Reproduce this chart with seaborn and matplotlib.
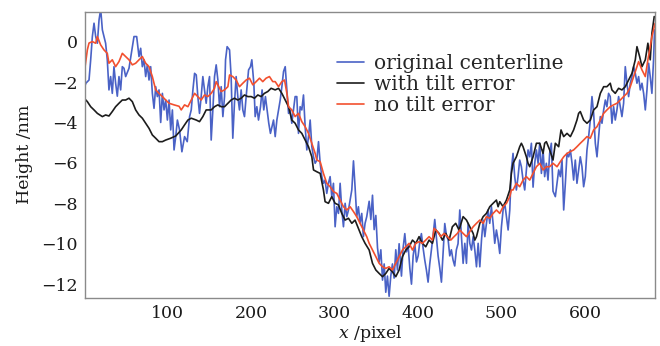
import matplotlib
matplotlib.use("Agg")
import matplotlib.pyplot as plt
import seaborn as sns
import pandas as pd
from matplotlib.lines import Line2D

# ---------------- data ----------------
series_names = ["original centerline", "with tilt error", "no tilt error"]

blue_pts = [
    (0, -2.31), (2, -2.06), (5.8, -1.9), (7.8, -0.9), (9.8, 0.25), (11.8, 0.91), (13.8, 0.25),
    (15.8, -0.08), (17.8, 1.07), (19.8, 1.6), (21.8, 0.58), (25.7, -0.08), (27.7, -0.9),
    (29.7, -2.39), (31.7, -1.73), (33.7, -2.56), (35.7, -1.24), (37.7, -2.06), (39.7, -2.7),
    (41.7, -1.73), (43.7, -2.39), (45.7, -1.24), (47.7, -1.32), (49.7, -1.73), (53.7, -1.32),
    (57.7, -0.25), (59.7, 0.25), (62.9, 0.25), (65.7, -0.74), (67.7, -0.33), (69.7, -1.24),
    (71.7, -0.9), (73.7, -1.73), (75.7, -1.15), (77.7, -1.9), (79.7, -1.24), (81.7, -2.56),
    (83.7, -3.3), (85.7, -2.23), (87.7, -2.72), (89.7, -2.39), (91.7, -4.0), (93.7, -2.56),
    (95.7, -3.38), (97.7, -2.89), (99.7, -3.88), (101.7, -2.89), (103.7, -4.37), (105.7, -3.38),
    (107.7, -5.36), (109.7, -4.7), (111.7, -3.88), (114.3, -4.37), (117.1, -5.45), (120.3, -4.7),
    (123.5, -4.95), (126.3, -3.71), (128.3, -3.38), (130.3, -2.39), (132.3, -1.57), (134.3, -1.65),
    (136.2, -2.72), (138.2, -3.55), (140.2, -2.72), (142.2, -1.73), (144.2, -2.39), (146.2, -3.05),
    (148.2, -2.23), (150.2, -1.73), (152.2, -4.87), (154.2, -3.38), (156.2, -1.73), (158.2, -1.15),
    (160.2, -1.9), (162.2, -3.22), (164.2, -2.23), (166.2, -3.71), (168.2, -2.72), (169.4, -0.9),
    (171.3, -0.25), (174.2, -0.41), (176.1, -1.73), (178.1, -4.78), (180.1, -3.05), (182.1, -1.73),
    (184.1, -2.72), (186.1, -3.38), (188.1, -2.39), (190.1, -3.38), (192.1, -3.71), (194.1, -2.72),
    (197.0, -1.4), (199.3, -1.24), (200.9, -0.9), (203.3, -2.06), (204.9, -3.71), (206.9, -3.22),
    (208.9, -3.88), (211.3, -3.22), (213.2, -2.39), (215.2, -3.38), (217.2, -2.72), (219.2, -3.38),
    (221.2, -4.04), (223.2, -4.54), (226.9, -3.88), (228.9, -4.7), (230.9, -3.88), (232.9, -3.38),
    (234.9, -2.89), (236.9, -2.23), (238.9, -1.48), (240.9, -1.24), (242.9, -2.39), (244.9, -3.55),
    (246.9, -3.38), (248.8, -4.04), (250.8, -3.38), (252.8, -2.72), (254.8, -2.72), (256.8, -4.54),
    (258.8, -3.22), (260.8, -3.38), (262.8, -2.64), (264.8, -4.21), (266.8, -5.36), (268.8, -4.7),
    (270.8, -3.88), (272.8, -5.2), (274.8, -5.7), (276.8, -6.02), (278.8, -5.86), (280.8, -4.95),
    (282.8, -6.02), (284.8, -6.68), (286.7, -7.01), (288.7, -6.85), (290.7, -7.51), (292.7, -7.01),
    (294.7, -6.68), (296.7, -7.67), (298.7, -7.01), (300.7, -9.16), (302.7, -8.17), (304.7, -8.5),
    (306.7, -7.01), (308.7, -8.33), (310.7, -9.16), (312.7, -8.0), (314.7, -8.66), (316.7, -8.33),
    (320.7, -7.34), (322.7, -5.9), (324.6, -7.18), (326.6, -8.66), (328.6, -8.17), (330.6, -8.99),
    (332.6, -8.5), (334.6, -9.65), (336.6, -8.99), (338.6, -8.66), (341.5, -7.9), (343.5, -8.8),
    (345.5, -7.6), (347.5, -9.3), (349.5, -8.6), (351.5, -10.2), (353.5, -10.9), (355.5, -10.3),
    (357.5, -11.8), (359.5, -11.0), (361.4, -12.4), (363.4, -11.6), (365.4, -12.6), (367.4, -11.6),
    (369.4, -11.0), (371.4, -11.7), (373.4, -10.3), (375.4, -11.3), (377.4, -10.0), (380.2, -11.6),
    (382.2, -10.2), (384.2, -9.5), (386.2, -10.4), (388.2, -10.1), (390.2, -11.2), (392.2, -12.0),
    (394.2, -10.6), (396.2, -10.0), (398.2, -10.9), (400.2, -10.6), (402.2, -9.9), (404.1, -9.5),
    (406.1, -10.2), (408.1, -10.8), (410.1, -11.3), (412.1, -11.9), (414.1, -11.0), (416.1, -10.3),
    (418.1, -9.6), (420.1, -8.8), (422.1, -9.7), (424.1, -10.6), (426.1, -11.2), (428.1, -11.9),
    (430.1, -10.4), (432.1, -9.0), (434.1, -9.6), (436.1, -9.8), (438.1, -10.6), (440.0, -10.3),
    (442.0, -10.8), (444.0, -11.1), (446.0, -10.3), (448.0, -10.0), (450.1, -8.33), (452.1, -9.65),
    (454.1, -10.97), (456.1, -9.98), (458.1, -10.97), (460.1, -8.99), (462.1, -9.98), (464.1, -10.31),
    (466.1, -9.65), (468.1, -10.31), (470.1, -11.14), (472.1, -9.98), (474.1, -11.14), (476.1, -9.82),
    (478.1, -8.83), (480.1, -9.65), (482.0, -8.99), (484.0, -8.33), (486.0, -8.99), (488.0, -8.17),
    (490.0, -8.99), (492.0, -9.98), (494.0, -9.32), (496.0, -9.82), (498.0, -10.48), (500.0, -9.16),
    (502.0, -8.33), (504.0, -8.0), (506.0, -8.66), (508.0, -9.32), (510.0, -8.33), (511.9, -6.35),
    (513.9, -5.53), (515.9, -6.68), (517.9, -7.34), (519.9, -6.68), (521.9, -5.86), (523.9, -6.19),
    (525.9, -6.85), (527.9, -7.34), (529.9, -6.35), (531.9, -5.36), (533.9, -5.7), (535.9, -5.03),
    (537.9, -7.2), (539.9, -6.02), (541.9, -5.36), (543.9, -6.02), (545.9, -5.03), (547.9, -6.52),
    (549.9, -5.36), (551.8, -6.68), (553.8, -6.02), (555.8, -6.85), (557.8, -5.53), (559.8, -5.03),
    (561.8, -7.4), (564.6, -7.67), (566.6, -7.01), (568.6, -6.35), (570.6, -6.68), (572.6, -5.86),
    (574.6, -8.33), (576.6, -7.01), (578.6, -5.53), (580.6, -5.7), (582.6, -5.36), (584.6, -6.02),
    (586.5, -6.85), (588.5, -5.86), (590.5, -7.01), (592.5, -6.35), (594.5, -5.7), (596.5, -6.19),
    (598.5, -7.18), (600.5, -6.68), (602.5, -5.36), (604.5, -4.7), (606.5, -3.88), (608.5, -2.72),
    (610.5, -3.55), (612.5, -5.03), (614.5, -5.7), (616.5, -4.7), (618.5, -3.71), (620.5, -4.04),
    (622.5, -3.38), (624.5, -2.89), (626.4, -3.22), (628.4, -2.56), (630.4, -2.72), (632.4, -4.04),
    (634.4, -3.22), (636.4, -3.88), (638.4, -3.38), (640.4, -2.72), (642.4, -3.22), (644.4, -3.71),
    (646.4, -3.05), (648.4, -1.24), (650.4, -2.06), (652.4, -2.72), (654.4, -2.06), (656.4, -1.73),
    (658.4, -1.24), (660.4, -1.57), (662.4, -2.06), (664.4, -1.73), (666.4, -2.39), (668.4, -2.06),
    (670.4, -2.56), (672.4, -3.38), (674.4, -2.39), (676.4, -1.07), (678.3, -1.73), (680.3, -2.56),
    (682.3, -0.9), (683.5, 0.58),
]

black_pts = [
    (0, -2.8), (3.8, -2.97), (7.8, -3.22), (11.8, -3.38), (15.8, -3.55), (21.8, -3.71), (25.7, -3.63),
    (29.7, -3.68), (33.7, -3.46), (37.7, -3.22), (41.7, -3.05), (45.7, -2.89), (49.7, -2.89),
    (53.7, -2.8), (57.7, -2.97), (61.7, -3.38), (65.7, -3.63), (69.7, -3.79), (73.7, -4.04),
    (77.7, -4.29), (81.7, -4.62), (85.7, -4.78), (89.7, -4.95), (93.7, -4.95), (97.7, -4.87),
    (103.7, -4.78), (109.7, -4.67), (116.3, -4.37), (120.3, -4.12), (124.3, -3.88), (128.3, -3.79),
    (134.3, -3.88), (138.2, -3.96), (142.2, -3.71), (146.2, -3.38), (152.2, -3.38), (156.2, -3.22),
    (160.2, -3.13), (164.2, -3.22), (168.2, -3.22), (172.2, -3.05), (176.1, -2.89), (180.1, -2.8),
    (184.1, -2.89), (188.1, -2.8), (192.1, -2.64), (196.1, -2.72), (200.1, -2.72), (204.1, -2.8),
    (208.1, -2.64), (212.1, -2.72), (216.0, -2.56), (220.0, -2.47), (224.0, -2.31), (228.9, -2.39),
    (232.9, -2.31), (236.9, -2.56), (240.9, -2.89), (244.9, -3.22), (248.8, -3.88), (252.8, -4.04),
    (256.8, -4.37), (260.8, -4.54), (264.8, -4.87), (268.8, -5.2), (272.8, -5.7), (274.8, -6.35),
    (278.8, -6.44), (282.8, -6.52), (286.7, -7.34), (288.7, -7.92), (292.7, -8.0), (296.7, -7.67),
    (300.7, -8.0), (304.7, -8.08), (308.7, -8.5), (312.7, -8.83), (316.7, -8.74), (320.7, -8.99),
    (324.6, -8.83), (328.6, -9.24), (332.6, -9.65), (336.6, -9.98), (341.5, -10.31), (345.5, -10.97),
    (349.5, -11.3), (353.5, -11.47), (357.5, -11.63), (361.4, -11.47), (365.4, -11.22), (369.4, -11.39),
    (373.4, -11.63), (377.4, -11.3), (381.4, -10.64), (385.4, -10.31), (389.4, -10.15), (393.4, -9.82),
    (397.4, -9.98), (401.3, -9.65), (405.3, -9.98), (409.3, -10.15), (413.3, -9.82), (417.3, -9.98),
    (421.3, -9.32), (425.3, -9.49), (429.3, -9.82), (433.3, -9.49), (437.3, -9.82), (441.2, -9.16),
    (445.2, -8.99), (449.2, -9.32), (454.1, -8.66), (458.1, -8.83), (462.1, -9.16), (466.1, -9.49),
    (468.1, -9.82), (470.1, -9.65), (474.1, -8.99), (478.1, -8.66), (482.0, -8.5), (486.0, -8.17),
    (490.0, -8.0), (494.0, -7.84), (496.0, -8.17), (498.0, -7.92), (502.0, -8.17), (506.0, -7.84),
    (510.0, -7.34), (511.9, -6.52), (513.9, -6.02), (517.9, -5.7), (521.9, -5.2), (523.9, -5.03),
    (525.9, -5.2), (529.9, -5.7), (531.9, -6.02), (533.9, -6.19), (537.9, -5.7), (541.9, -5.03),
    (545.9, -5.03), (549.9, -5.53), (551.8, -5.03), (553.8, -4.95), (557.8, -5.36), (561.8, -5.86),
    (564.6, -5.03), (568.6, -5.2), (571.4, -4.37), (574.6, -4.7), (578.6, -4.54), (582.6, -4.7),
    (586.5, -4.37), (590.5, -3.88), (592.5, -3.55), (594.5, -3.46), (598.5, -3.88), (602.5, -4.04),
    (606.5, -3.88), (610.5, -3.38), (614.5, -3.22), (618.5, -2.56), (622.5, -2.23), (626.4, -2.23),
    (630.4, -2.06), (632.4, -2.39), (636.4, -2.56), (640.4, -2.31), (644.4, -2.39), (648.4, -2.23),
    (652.4, -1.9), (656.4, -1.57), (660.4, -0.9), (662.4, -0.25), (665.6, -0.74), (668.4, -1.24),
    (672.4, -0.9), (675.5, -0.08), (678.3, -0.9), (680.3, 0.41), (683.1, 1.24),
]

red_pts = [
    (0, -1.57), (3.8, -0.41), (5.8, -0.07), (9.8, 0.0), (13.8, -0.08), (15.8, 0.25), (19.7, -0.16),
    (23.7, -0.41), (27.7, -0.58), (29.7, -1.07), (33.7, -0.9), (37.7, -1.24), (41.7, -0.99),
    (45.7, -0.58), (49.7, -0.74), (53.7, -0.9), (57.7, -1.15), (61.7, -1.07), (65.7, -0.9),
    (69.7, -0.74), (73.7, -1.07), (77.7, -1.24), (81.7, -1.73), (85.7, -2.39), (89.7, -2.56),
    (93.7, -2.72), (97.7, -2.89), (101.7, -3.05), (107.7, -3.13), (113.7, -3.2), (116.3, -3.38),
    (120.3, -3.13), (124.3, -3.22), (128.3, -2.89), (132.3, -2.56), (136.2, -2.72), (140.2, -2.89),
    (144.2, -2.64), (148.2, -2.72), (152.2, -2.56), (156.2, -2.31), (158.2, -1.98), (160.2, -2.14),
    (164.2, -2.47), (168.2, -2.39), (172.2, -2.23), (174.2, -1.65), (178.1, -1.73), (182.1, -1.9),
    (186.1, -2.23), (190.1, -2.06), (194.1, -1.9), (198.1, -1.81), (202.1, -2.14), (206.1, -1.98),
    (210.1, -1.81), (214.0, -1.98), (218.0, -1.81), (222.0, -1.73), (226.0, -1.98), (228.9, -1.98),
    (232.9, -2.23), (236.9, -1.98), (240.1, -1.9), (242.9, -2.56), (244.9, -3.22), (248.8, -3.38),
    (252.8, -3.71), (256.8, -3.55), (260.8, -3.96), (264.8, -4.21), (268.8, -4.54), (272.8, -5.03),
    (276.8, -5.53), (278.8, -5.86), (282.8, -5.94), (286.7, -6.52), (290.7, -7.01), (294.7, -7.18),
    (298.7, -7.42), (302.7, -7.51), (306.7, -7.84), (310.7, -8.17), (314.7, -8.33), (318.7, -8.17),
    (322.7, -8.41), (326.6, -8.66), (330.6, -8.99), (334.6, -9.32), (338.6, -9.65), (341.5, -9.98),
    (345.5, -10.31), (349.5, -10.64), (353.5, -10.97), (357.5, -11.14), (361.4, -11.22), (365.4, -11.14),
    (369.4, -11.3), (373.4, -10.97), (377.4, -10.64), (381.4, -10.31), (385.4, -10.15), (389.4, -9.98),
    (393.4, -10.31), (397.4, -9.98), (401.3, -9.9), (405.3, -9.98), (409.3, -9.82), (413.3, -9.65),
    (417.3, -9.82), (419.3, -9.24), (423.3, -9.4), (427.3, -9.65), (431.3, -9.49), (435.3, -9.65),
    (439.3, -9.82), (443.2, -9.65), (447.2, -9.49), (450.1, -9.32), (454.1, -9.49), (458.1, -9.65),
    (462.1, -9.4), (466.1, -9.16), (470.1, -8.99), (474.1, -8.83), (478.1, -8.99), (482.0, -8.66),
    (486.0, -8.74), (490.0, -8.5), (494.0, -8.33), (498.0, -8.5), (502.0, -8.17), (506.0, -8.0),
    (510.0, -7.67), (511.9, -7.34), (513.9, -7.34), (517.9, -7.01), (521.9, -7.18), (525.9, -6.85),
    (529.9, -6.68), (533.9, -6.85), (537.9, -6.52), (541.9, -6.19), (545.9, -6.02), (549.9, -6.35),
    (553.8, -6.19), (557.8, -6.19), (561.8, -6.02), (566.6, -6.19), (570.6, -5.94), (574.6, -5.7),
    (578.6, -5.53), (582.6, -5.44), (586.5, -5.36), (590.5, -5.2), (594.5, -5.03), (598.5, -4.87),
    (602.5, -4.7), (606.5, -4.78), (610.5, -4.37), (614.5, -4.21), (618.5, -3.88), (622.5, -3.55),
    (626.4, -3.38), (630.4, -3.22), (634.4, -3.13), (638.4, -3.05), (642.4, -2.89), (646.4, -2.72),
    (650.4, -2.56), (654.4, -2.23), (658.4, -1.73), (662.4, -1.24), (664.4, -0.99), (668.4, -1.4),
    (672.4, -1.73), (675.5, -0.9), (678.3, -0.25), (680.3, 0.25), (682.3, 0.58), (684, 0.9),
]

x_ticks = [100, 200, 300, 400, 500, 600]
y_ticks = [0, -2, -4, -6, -8, -10, -12]

# ---------------- style ----------------
sns.set_theme(style="white")
plt.rcParams["font.family"] = ["DejaVu Serif"]
plt.rcParams["mathtext.fontset"] = "dejavuserif"

colors = ["#4a62c6", "#1c1c1c", "#f2502f"]

fig = plt.figure(figsize=(6.6, 3.46), dpi=100)
ax = fig.add_axes([0.1288, 0.1396, 0.8636, 0.8266])

for pts, col in zip([blue_pts, black_pts, red_pts], colors):
    df = pd.DataFrame(pts, columns=["x", "y"])
    sns.lineplot(data=df, x="x", y="y", color=col, lw=1.2, ax=ax,
                 estimator=None, sort=False)

ax.set_xlim(1, 684)
ax.set_ylim(-12.67, 1.48)
ax.set_xticks(x_ticks)
ax.set_yticks(y_ticks)
ax.set_yticklabels([str(v).replace("-", "\u2212") for v in y_ticks])
ax.tick_params(direction="in", length=4, width=0.8, color="#8a8a8a",
               labelsize=12.5, labelcolor="#1a1a1a", pad=5)
for s in ax.spines.values():
    s.set_color("#8a8a8a")
    s.set_linewidth(1.0)

ax.set_xlabel("$x$ /pixel", fontsize=12.5, color="#1a1a1a", labelpad=1)
ax.set_ylabel("Height /nm", fontsize=12.5, color="#1a1a1a", labelpad=6)

handles = [Line2D([], [], color=c, lw=1.2) for c in colors]
ax.legend(handles, series_names, loc="upper left", bbox_to_anchor=(0.442, 0.853),
          frameon=False, fontsize=14.5, handlelength=1.35, handletextpad=0.5,
          labelspacing=0.1, borderaxespad=0, borderpad=0)

fig.savefig("out.png", dpi=100)
